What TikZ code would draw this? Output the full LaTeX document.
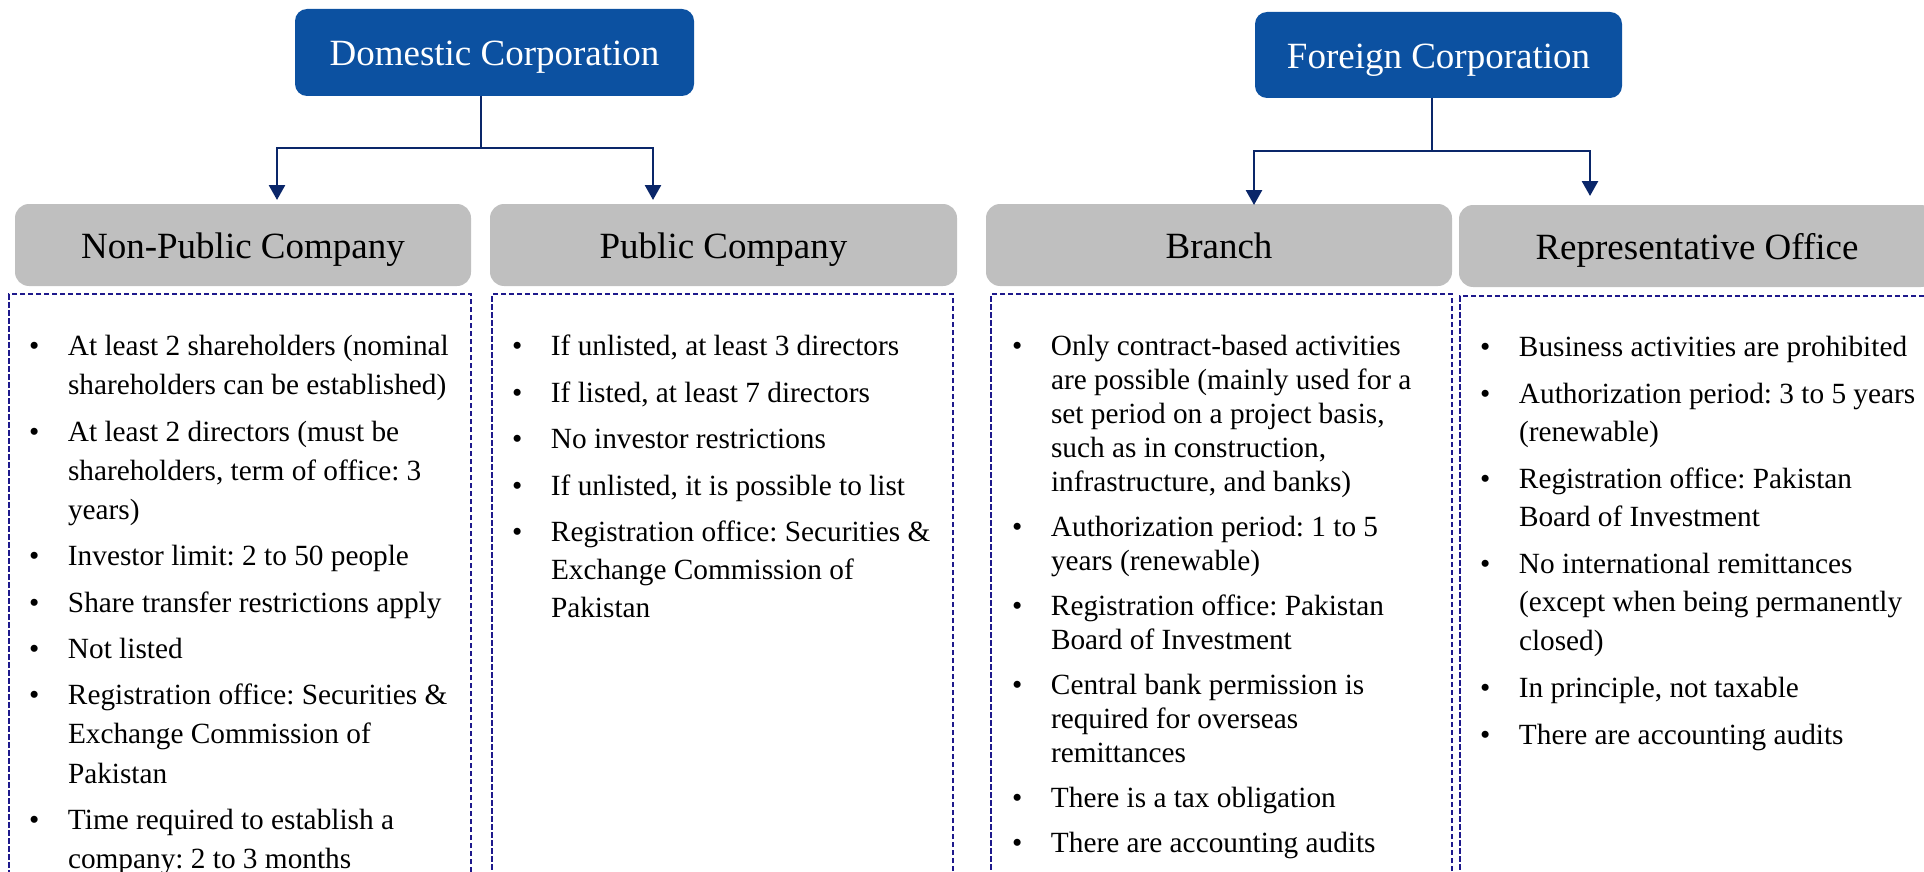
\documentclass[tikz,border=0pt]{standalone}
\usepackage{fontspec}
\setmainfont{Liberation Serif}
\usetikzlibrary{arrows.meta}
\definecolor{bluebox}{RGB}{12,81,161}
\definecolor{graybox}{RGB}{191,191,191}
\definecolor{navyline}{RGB}{10,38,105}
\definecolor{dashcol}{RGB}{30,25,140}
\newlength\bulw
\setlength\bulw{39pt}
\newcommand\blt{\makebox[\bulw][l]{•}}
\newcommand\bct{\hspace*{\bulw}}
\newcommand\fstl{\rule{0pt}{25pt}}
\frenchspacing
\begin{document}
\begin{tikzpicture}[x=1pt,y=-1pt,
  topbox/.style={fill=bluebox, rounded corners=12pt, text=white,
    font=\fontsize{37}{40}\selectfont, text height=28pt, text depth=1.4pt,
    inner sep=0pt, outer sep=0pt},
  subbox/.style={fill=graybox, rounded corners=14pt, text=black,
    font=\fontsize{37}{40}\selectfont, text height=28pt, text depth=1.4pt,
    inner sep=0pt, outer sep=0pt, minimum height=82pt},
  listbox/.style={draw=dashcol, line width=1.5pt, dash pattern=on 5.5pt off 2.5pt,
    inner sep=0pt, outer sep=0pt, anchor=north west, minimum height=620pt},
  listtext/.style={anchor=north west, align=left, inner sep=0pt, outer sep=0pt, text=black},
  conn/.style={draw=navyline, line width=2.7pt},
  arr/.style={conn, -{Triangle[length=15pt,width=16pt]}},
]
\useasboundingbox (0,0) rectangle (1924,872);
\clip (0,0) rectangle (1924,872);

% top boxes
\node[topbox, minimum width=399pt, minimum height=87pt] (dom) at (494.5,52.5) {Domestic Corporation};
\node[topbox, minimum width=367pt, minimum height=86pt] (for) at (1438.5,55) {Foreign Corporation};

% sub headers
\node[subbox, minimum width=456pt] (np) at (243,245) {Non-Public Company};
\node[subbox, minimum width=467pt] (pub) at (723.5,245) {Public Company};
\node[subbox, minimum width=466pt] (br) at (1219,245) {Branch};
\node[subbox, minimum width=476pt] (rep) at (1697,246) {Representative Office};

% dashed list frames
\node[listbox, minimum width=462pt] (npframe) at (9,294) {};
\node[listbox, minimum width=461pt] (pubframe) at (492,294) {};
\node[listbox, minimum width=461pt] (brframe) at (991,294) {};
\node[listbox, minimum width=470pt] (repframe) at (1460,296) {};

% connectors
\coordinate (dsplit) at (481,148);
\coordinate (npTip) at (277,200);
\coordinate (pubTip) at (653,200);
\draw[conn] (dsplit |- dom.south) -- (dsplit);
\draw[arr] (dsplit) -| (npTip);
\draw[arr] (dsplit) -| (pubTip);

\coordinate (fsplit) at (1432,151);
\coordinate (brTip) at (1254,205);
\coordinate (repTip) at (1590,196);
\draw[conn] (fsplit |- for.south) -- (fsplit);
\draw[arr] (fsplit) -| (brTip);
\draw[arr] (fsplit) -| (repTip);

% lists (first baseline 25pt below the node top)
\node[listtext, font=\fontsize{29.3}{39.2}\selectfont] (nplist) at (29,330.5) {%
\fstl\blt At least 2 shareholders (nominal\\
\bct shareholders can be established)\\[7.1pt]
\blt At least 2 directors (must be\\
\bct shareholders, term of office: 3\\
\bct years)\\[7.1pt]
\blt Investor limit: 2 to 50 people\\[7.1pt]
\blt Share transfer restrictions apply\\[7.1pt]
\blt Not listed\\[7.1pt]
\blt Registration office: Securities \&\\
\bct Exchange Commission of\\
\bct Pakistan\\[7.1pt]
\blt Time required to establish a\\
\bct company: 2 to 3 months};

\node[listtext, font=\fontsize{29.3}{38}\selectfont] (publist) at (512,330.5) {%
\fstl\blt If unlisted, at least 3 directors\\[8.6pt]
\blt If listed, at least 7 directors\\[8.6pt]
\blt No investor restrictions\\[8.6pt]
\blt If unlisted, it is possible to list\\[8.6pt]
\blt Registration office: Securities \&\\
\bct Exchange Commission of\\
\bct Pakistan};

\node[listtext, font=\fontsize{29.3}{34}\selectfont] (brlist) at (1012,330.5) {%
\fstl\blt Only contract-based activities\\
\bct are possible (mainly used for a\\
\bct set period on a project basis,\\
\bct such as in construction,\\
\bct infrastructure, and banks)\\[11pt]
\blt Authorization period: 1 to 5\\
\bct years (renewable)\\[11pt]
\blt Registration office: Pakistan\\
\bct Board of Investment\\[11pt]
\blt Central bank permission is\\
\bct required for overseas\\
\bct remittances\\[11pt]
\blt There is a tax obligation\\[11pt]
\blt There are accounting audits};

\node[listtext, font=\fontsize{29.3}{38.3}\selectfont] (replist) at (1480,331) {%
\fstl\blt Business activities are prohibited\\[8.7pt]
\blt Authorization period: 3 to 5 years\\
\bct (renewable)\\[8.7pt]
\blt Registration office: Pakistan\\
\bct Board of Investment\\[8.7pt]
\blt No international remittances\\
\bct (except when being permanently\\
\bct closed)\\[8.7pt]
\blt In principle, not taxable\\[8.7pt]
\blt There are accounting audits};
\end{tikzpicture}
\end{document}
